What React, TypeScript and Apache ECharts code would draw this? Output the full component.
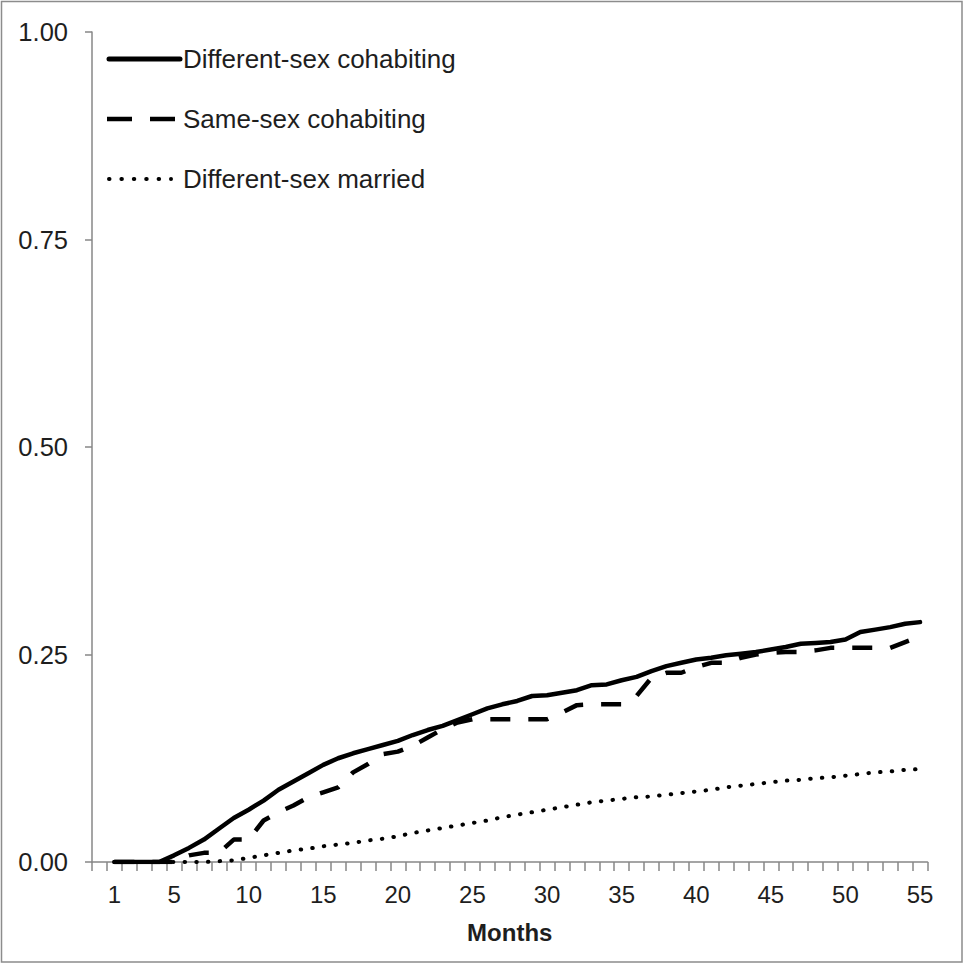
import React, { useEffect, useRef } from "react";
import * as echarts from "echarts";

const months: string[] = Array.from({ length: 56 }, (_, i) => String(i));
const xTickLabels: string[] = ["1", "5", "10", "15", "20", "25", "30", "35", "40", "45", "50", "55"];
const yTickLabels: number[] = [0, 0.25, 0.5, 0.75, 1];

// values for months 1..55
const diffSexCohabiting: number[] = [
  0, 0, 0, 0, 0.008, 0.017, 0.027, 0.04, 0.053, 0.063,
  0.074, 0.087, 0.097, 0.107, 0.117, 0.125, 0.131, 0.136, 0.141, 0.146,
  0.153, 0.159, 0.164, 0.171, 0.178, 0.185, 0.19, 0.194, 0.2, 0.201,
  0.204, 0.207, 0.213, 0.214, 0.219, 0.223, 0.23, 0.236, 0.24, 0.244,
  0.246, 0.249, 0.251, 0.253, 0.256, 0.259, 0.263, 0.264, 0.265, 0.268,
  0.277, 0.28, 0.283, 0.287, 0.289,
];
const sameSexCohabiting: number[] = [
  0, 0, 0, 0, 0, 0.008, 0.011, 0.011, 0.027, 0.027,
  0.05, 0.06, 0.068, 0.078, 0.084, 0.09, 0.108, 0.118, 0.13, 0.133,
  0.14, 0.15, 0.16, 0.168, 0.172, 0.172, 0.172, 0.172, 0.172, 0.172,
  0.18, 0.189, 0.19, 0.19, 0.19, 0.2, 0.222, 0.228, 0.228, 0.235,
  0.24, 0.24, 0.246, 0.25, 0.252, 0.253, 0.253, 0.255, 0.258, 0.258,
  0.258, 0.258, 0.258, 0.265, 0.272,
];
const diffSexMarried: number[] = [
  0, 0, 0, 0, 0, 0, 0, 0.001, 0.002, 0.005,
  0.008, 0.011, 0.014, 0.016, 0.019, 0.021, 0.023, 0.026, 0.028, 0.031,
  0.035, 0.038, 0.041, 0.044, 0.047, 0.05, 0.054, 0.057, 0.06, 0.063,
  0.066, 0.069, 0.072, 0.074, 0.076, 0.078, 0.079, 0.081, 0.083, 0.085,
  0.087, 0.09, 0.092, 0.094, 0.096, 0.098, 0.099, 0.101, 0.102, 0.104,
  0.106, 0.108, 0.109, 0.111, 0.112,
];

const seriesNames = ["Different-sex cohabiting", "Same-sex cohabiting", "Different-sex married"];

const FONT = "'Liberation Sans', Arial, sans-serif";
const AXIS = "#878787";
const TEXT = "#1e1e1e";

const solidStyle = { width: 4.5, dash: null as number[] | null, cap: "round" };
const dashStyle = { width: 4.5, dash: [20, 18], cap: "butt" };
const dotStyle = { width: 4, dash: [0.5, 11.2], cap: "round" };

export default function App() {
  const ref = useRef<HTMLDivElement>(null);
  useEffect(() => {
    if (!ref.current) return;
    const chart = echarts.init(ref.current, undefined, { renderer: "svg" });
    const withGap = (arr: number[]) => [null, ...arr];

    const legendRows = [
      { name: seriesNames[0], y: 59, x2: 180, st: solidStyle, dash: null as number[] | null },
      { name: seriesNames[1], y: 119, x2: 175, st: dashStyle, dash: [25, 18] },
      { name: seriesNames[2], y: 179, x2: 171, st: dotStyle, dash: [0.5, 11.9] },
    ];
    const legendGraphics: any[] = [];
    legendRows.forEach((r) => {
      legendGraphics.push({
        type: "line",
        shape: { x1: r.st.cap === "round" ? 109 : 107, y1: r.y, x2: r.x2, y2: r.y },
        style: {
          stroke: "#000",
          lineWidth: r.st === solidStyle ? 5 : r.st.width,
          lineDash: r.dash || undefined,
          lineCap: r.st.cap,
        },
        silent: true,
      });
      legendGraphics.push({
        type: "text",
        x: 183,
        y: r.y,
        style: {
          text: r.name,
          fontFamily: FONT,
          fontSize: 26,
          fill: TEXT,
          textVerticalAlign: "middle",
          verticalAlign: "middle",
        },
        silent: true,
      });
    });

    chart.setOption({
      animation: false,
      backgroundColor: "#ffffff",
      textStyle: { fontFamily: FONT },
      graphic: [
        {
          type: "rect",
          shape: { x: 1.5, y: 1.5, width: 960.5, height: 960.5 },
          style: { fill: "none", stroke: "#8c8c8c", lineWidth: 1.5 },
          silent: true,
        },
        ...legendGraphics,
      ],
      grid: { left: 92, top: 32, width: 835.5, height: 830, containLabel: false },
      xAxis: {
        type: "category",
        data: months,
        boundaryGap: true,
        name: "Months",
        nameLocation: "middle",
        nameGap: 58,
        nameTextStyle: { fontFamily: FONT, fontSize: 24, fontWeight: "bold", color: TEXT },
        axisLine: { lineStyle: { color: AXIS, width: 1.5 } },
        axisTick: { show: true, interval: 0, length: 9, lineStyle: { color: AXIS, width: 1.5 } },
        axisLabel: {
          interval: (_i: number, v: string) => xTickLabels.includes(v),
          margin: 20,
          fontFamily: FONT,
          fontSize: 24,
          color: TEXT,
        },
        splitLine: { show: false },
      },
      yAxis: {
        type: "value",
        min: 0,
        max: 1,
        interval: 0.25,
        axisLine: { show: true, lineStyle: { color: AXIS, width: 1.5 } },
        axisTick: { show: true, length: 7, lineStyle: { color: AXIS, width: 1.5 } },
        axisLabel: {
          margin: 24,
          fontFamily: FONT,
          fontSize: 25.5,
          color: TEXT,
          formatter: (v: number) => (yTickLabels.includes(v) ? v.toFixed(2) : ""),
        },
        splitLine: { show: false },
      },
      series: [
        {
          name: seriesNames[2],
          type: "line",
          data: withGap(diffSexMarried),
          symbol: "none",
          z: 2,
          lineStyle: { color: "#000", width: dotStyle.width, type: dotStyle.dash, cap: "round" },
        },
        {
          name: seriesNames[1],
          type: "line",
          data: withGap(sameSexCohabiting),
          symbol: "none",
          z: 3,
          lineStyle: { color: "#000", width: dashStyle.width, type: dashStyle.dash, cap: "butt" },
        },
        {
          name: seriesNames[0],
          type: "line",
          data: withGap(diffSexCohabiting),
          symbol: "none",
          z: 4,
          lineStyle: { color: "#000", width: solidStyle.width, type: "solid", join: "round", cap: "round" },
        },
      ],
    });
    return () => chart.dispose();
  }, []);
  return (
    <div
      ref={ref}
      style={{ position: "absolute", left: 0, top: 0, width: 965, height: 964, background: "#fff" }}
    />
  );
}
